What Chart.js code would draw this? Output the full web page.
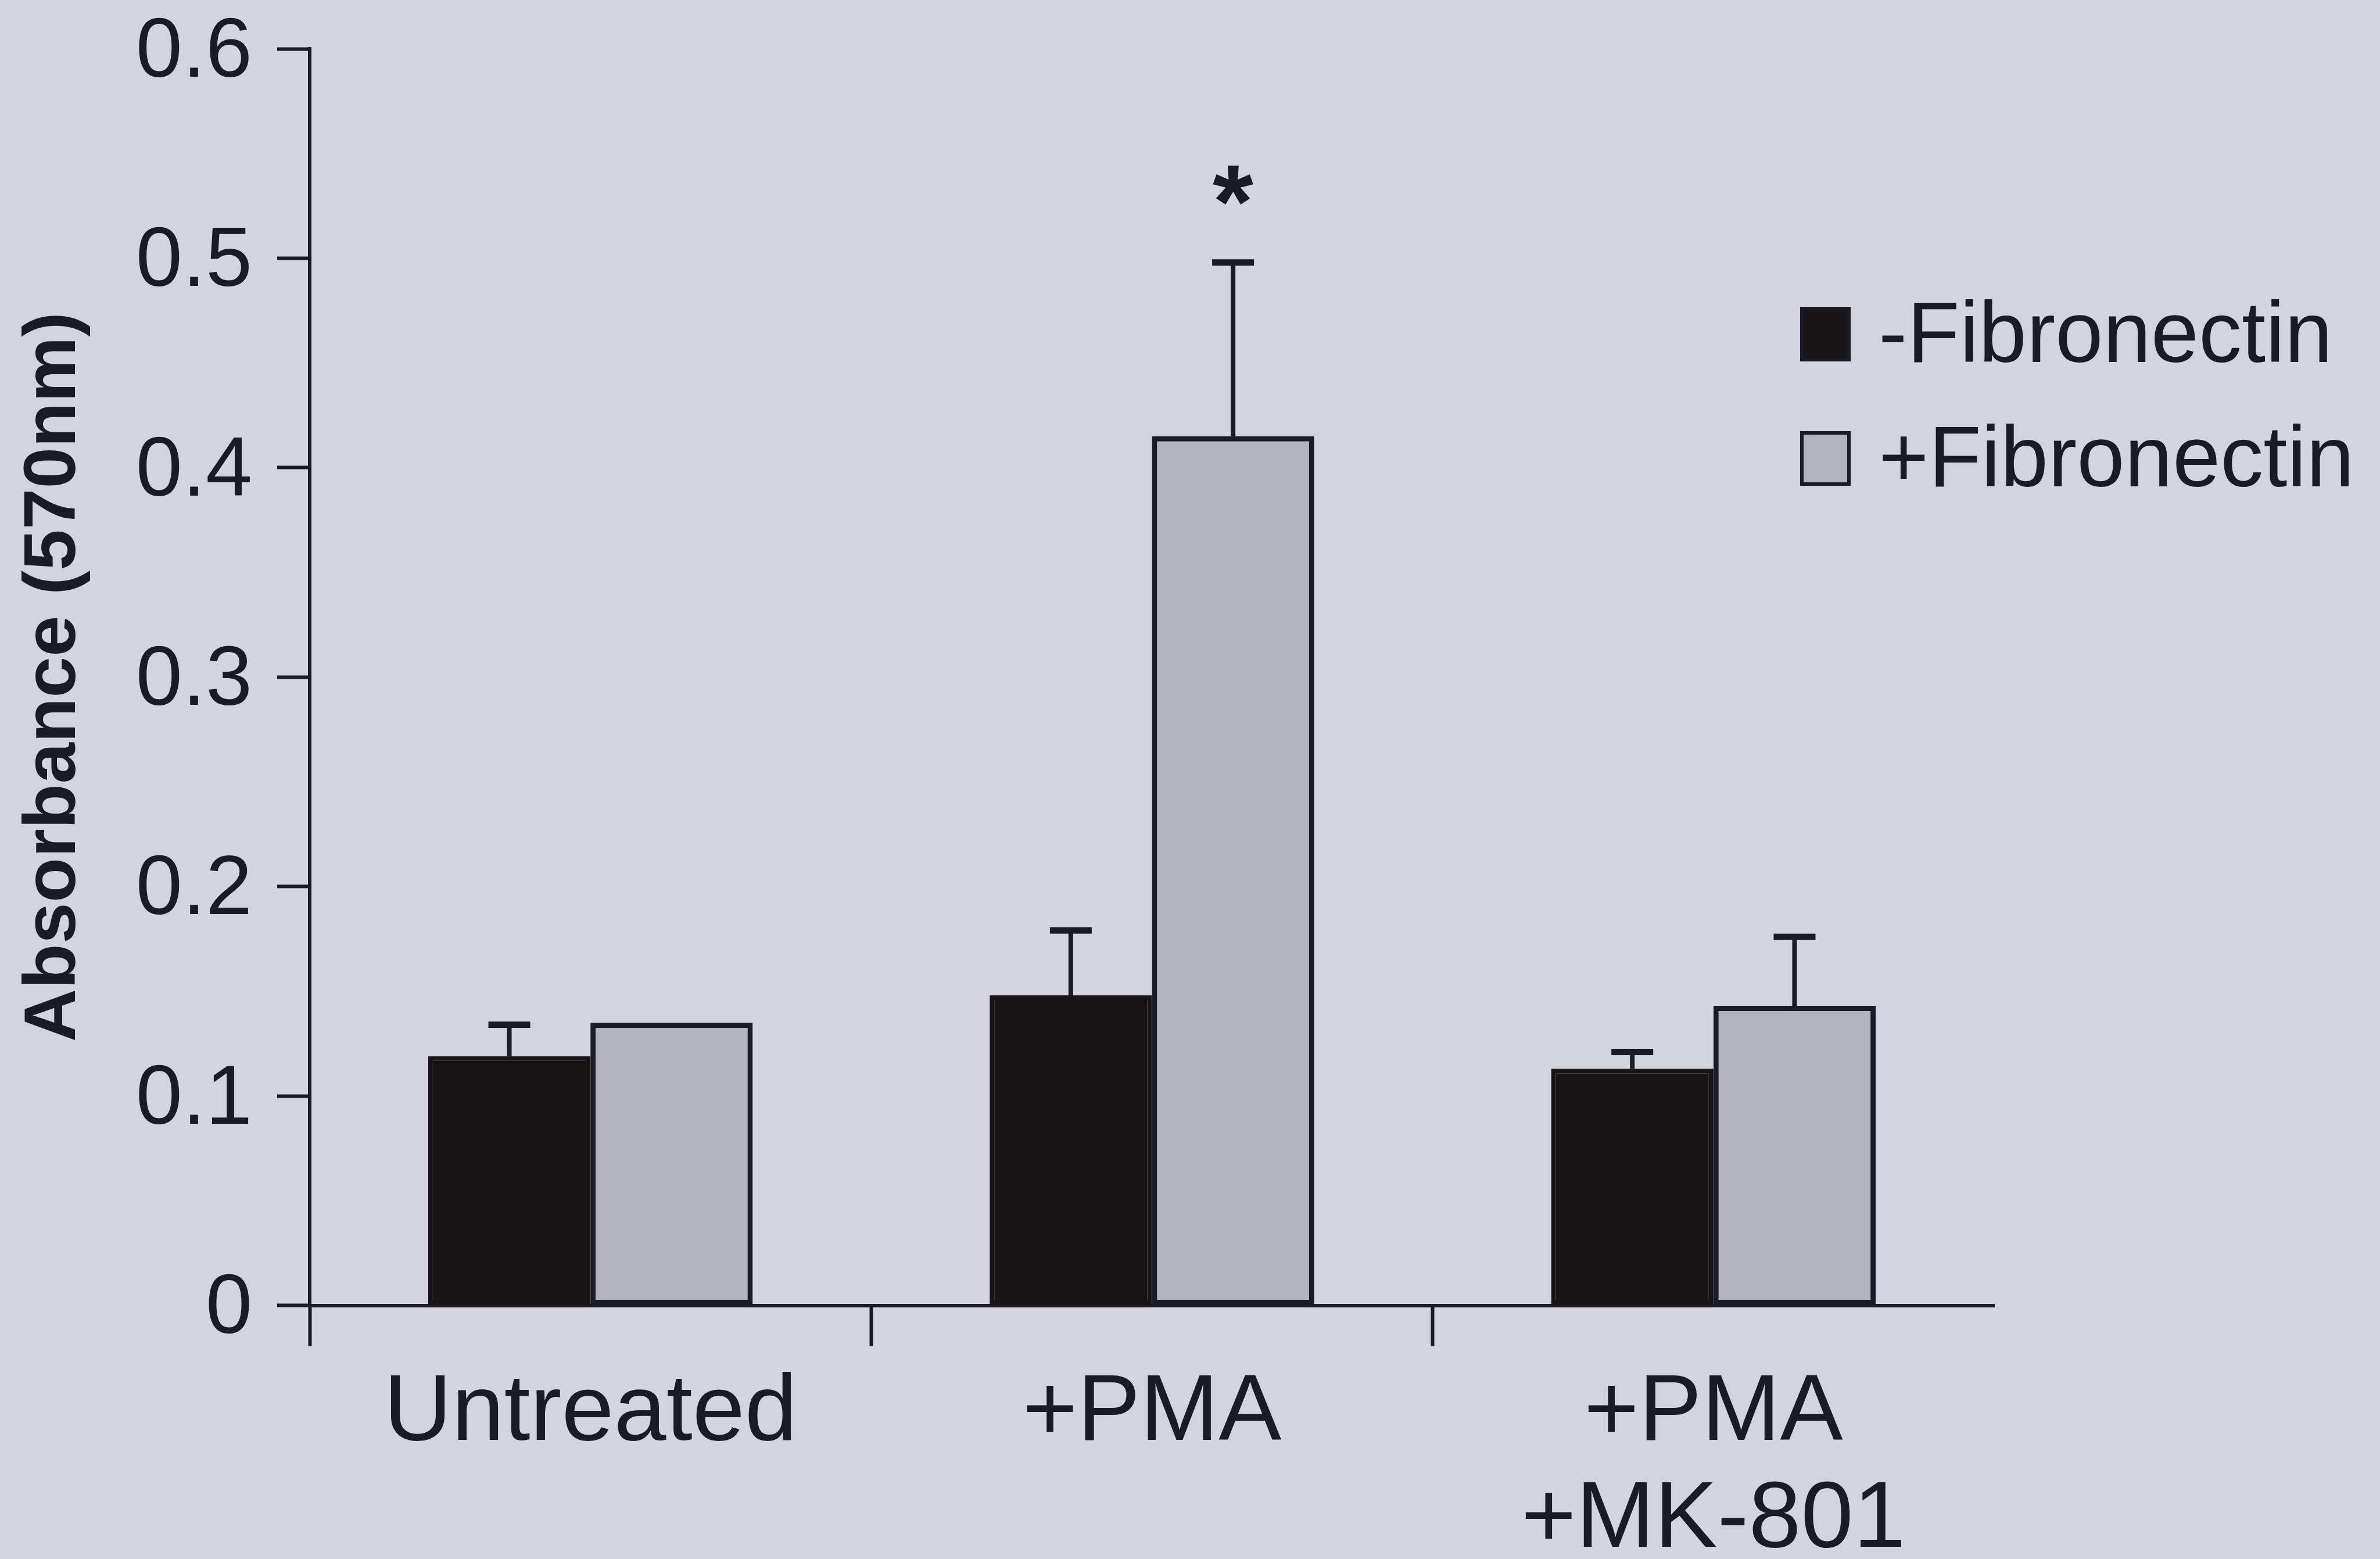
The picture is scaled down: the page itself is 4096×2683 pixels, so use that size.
<!DOCTYPE html>
<html>
<head>
<meta charset="utf-8">
<script src="https://cdn.jsdelivr.net/npm/chart.js@4.4.1/dist/chart.umd.min.js"></script>
<style>
  html, body { margin: 0; padding: 0; background: #d3d4df; overflow: hidden; }
  canvas { display: block; }
</style>
</head>
<body>
<canvas id="chart" width="4096" height="2683"></canvas>
<script>
// chart values
var categories = ['Untreated', '+PMA', ['+PMA', '+MK-801']];
var seriesNames = ['-Fibronectin', '+Fibronectin'];
var minusFn = [0.119, 0.148, 0.113];
var minusFnErr = [0.015, 0.031, 0.008];
var plusFn = [0.135, 0.415, 0.143];
var plusFnErr = [0, 0.083, 0.033];
var plusFnMarks = ['', '*', ''];
var yTickLabels = ['0', '0.1', '0.2', '0.3', '0.4', '0.5', '0.6'];

var INK = '#1a1b26';
var BG = '#d3d4df';
var FONT = '"Liberation Sans", Arial, sans-serif';

// paint the page colour behind everything
var background = {
  id: 'background',
  beforeDraw: function (chart) {
    var ctx = chart.ctx;
    ctx.save();
    ctx.fillStyle = BG;
    ctx.fillRect(0, 0, chart.width, chart.height);
    ctx.restore();
  }
};

// one-sided error bars and significance marks
var errorBars = {
  id: 'errorBars',
  afterDatasetsDraw: function (chart) {
    var ctx = chart.ctx;
    var yaxis = chart.scales.y;
    chart.data.datasets.forEach(function (ds, i) {
      var meta = chart.getDatasetMeta(i);
      meta.data.forEach(function (bar, j) {
        var err = ds.errors[j];
        var top = yaxis.getPixelForValue(ds.data[j] + err);
        ctx.save();
        ctx.strokeStyle = INK;
        if (err > 0) {
          ctx.lineWidth = 8;
          ctx.beginPath();
          ctx.moveTo(bar.x, bar.y);
          ctx.lineTo(bar.x, top);
          ctx.stroke();
          ctx.lineWidth = 11;
          ctx.beginPath();
          ctx.moveTo(bar.x - 36, top);
          ctx.lineTo(bar.x + 36, top);
          ctx.stroke();
        }
        if (ds.marks && ds.marks[j]) {
          ctx.fillStyle = INK;
          ctx.font = 'bold 180px ' + FONT;
          ctx.textAlign = 'center';
          ctx.textBaseline = 'middle';
          ctx.fillText(ds.marks[j], bar.x, top - 92);
        }
        ctx.restore();
      });
    });
  }
};

// legend sitting at the upper right, partly over the plot
var sideLegend = {
  id: 'sideLegend',
  afterDraw: function (chart) {
    var ctx = chart.ctx;
    var rows = [575, 789];
    ctx.save();
    chart.data.datasets.forEach(function (ds, i) {
      var cy = rows[i];
      ctx.fillStyle = ds.backgroundColor;
      ctx.fillRect(3098, cy - 47, 87, 94);
      ctx.strokeStyle = INK;
      ctx.lineWidth = 6;
      ctx.strokeRect(3101, cy - 44, 81, 88);
      ctx.fillStyle = INK;
      ctx.font = '148px ' + FONT;
      ctx.textAlign = 'left';
      ctx.textBaseline = 'middle';
      ctx.fillText(ds.label, 3233, cy + 7);
    });
    ctx.restore();
  }
};

var chart = new Chart(document.getElementById('chart'), {
  type: 'bar',
  data: {
    labels: categories,
    datasets: [
      {
        label: seriesNames[0],
        data: minusFn,
        errors: minusFnErr,
        backgroundColor: '#161415',
        borderColor: '#161415',
        borderWidth: 8,
        borderSkipped: false
      },
      {
        label: seriesNames[1],
        data: plusFn,
        errors: plusFnErr,
        marks: plusFnMarks,
        backgroundColor: '#b3b4bb',
        borderColor: INK,
        borderWidth: 9,
        borderSkipped: false
      }
    ]
  },
  options: {
    responsive: false,
    animation: false,
    devicePixelRatio: 1,
    categoryPercentage: 0.578,
    barPercentage: 1,
    layout: { padding: { top: 84, right: 664, bottom: 0, left: 0 } },
    plugins: {
      legend: { display: false },
      tooltip: { enabled: false }
    },
    scales: {
      x: {
        offset: true,
        ticks: {
          padding: 25,
          color: INK,
          maxRotation: 0,
          autoSkip: false,
          font: { family: FONT, size: 162, lineHeight: 1.136 }
        },
        grid: {
          offset: true,
          drawOnChartArea: false,
          tickLength: 70,
          tickWidth: 6,
          tickColor: function (c) { return c.type === 'tick' ? INK : 'rgba(0,0,0,0)'; }
        },
        border: { display: true, color: INK, width: 6 },
        afterFit: function (s) { s.height = 436.5; }
      },
      y: {
        min: 0,
        max: 0.6,
        ticks: {
          stepSize: 0.1,
          padding: 43,
          labelOffset: 8,
          color: INK,
          // small line height keeps the top label from pushing the plot down
          font: { family: FONT, size: 144, lineHeight: 0.3 },
          callback: function (v, i) { return yTickLabels[i]; }
        },
        grid: {
          drawOnChartArea: false,
          tickLength: 56,
          tickWidth: 6,
          tickColor: INK
        },
        border: { display: true, color: INK, width: 6 },
        title: {
          display: true,
          text: 'Absorbance (570nm)',
          color: INK,
          font: { family: FONT, size: 127, weight: 'bold', lineHeight: 1.2 },
          padding: { top: 18, bottom: 0 }
        },
        afterFit: function (s) { s.width = 533; }
      }
    }
  },
  plugins: [background, errorBars, sideLegend]
});
</script>
</body>
</html>
